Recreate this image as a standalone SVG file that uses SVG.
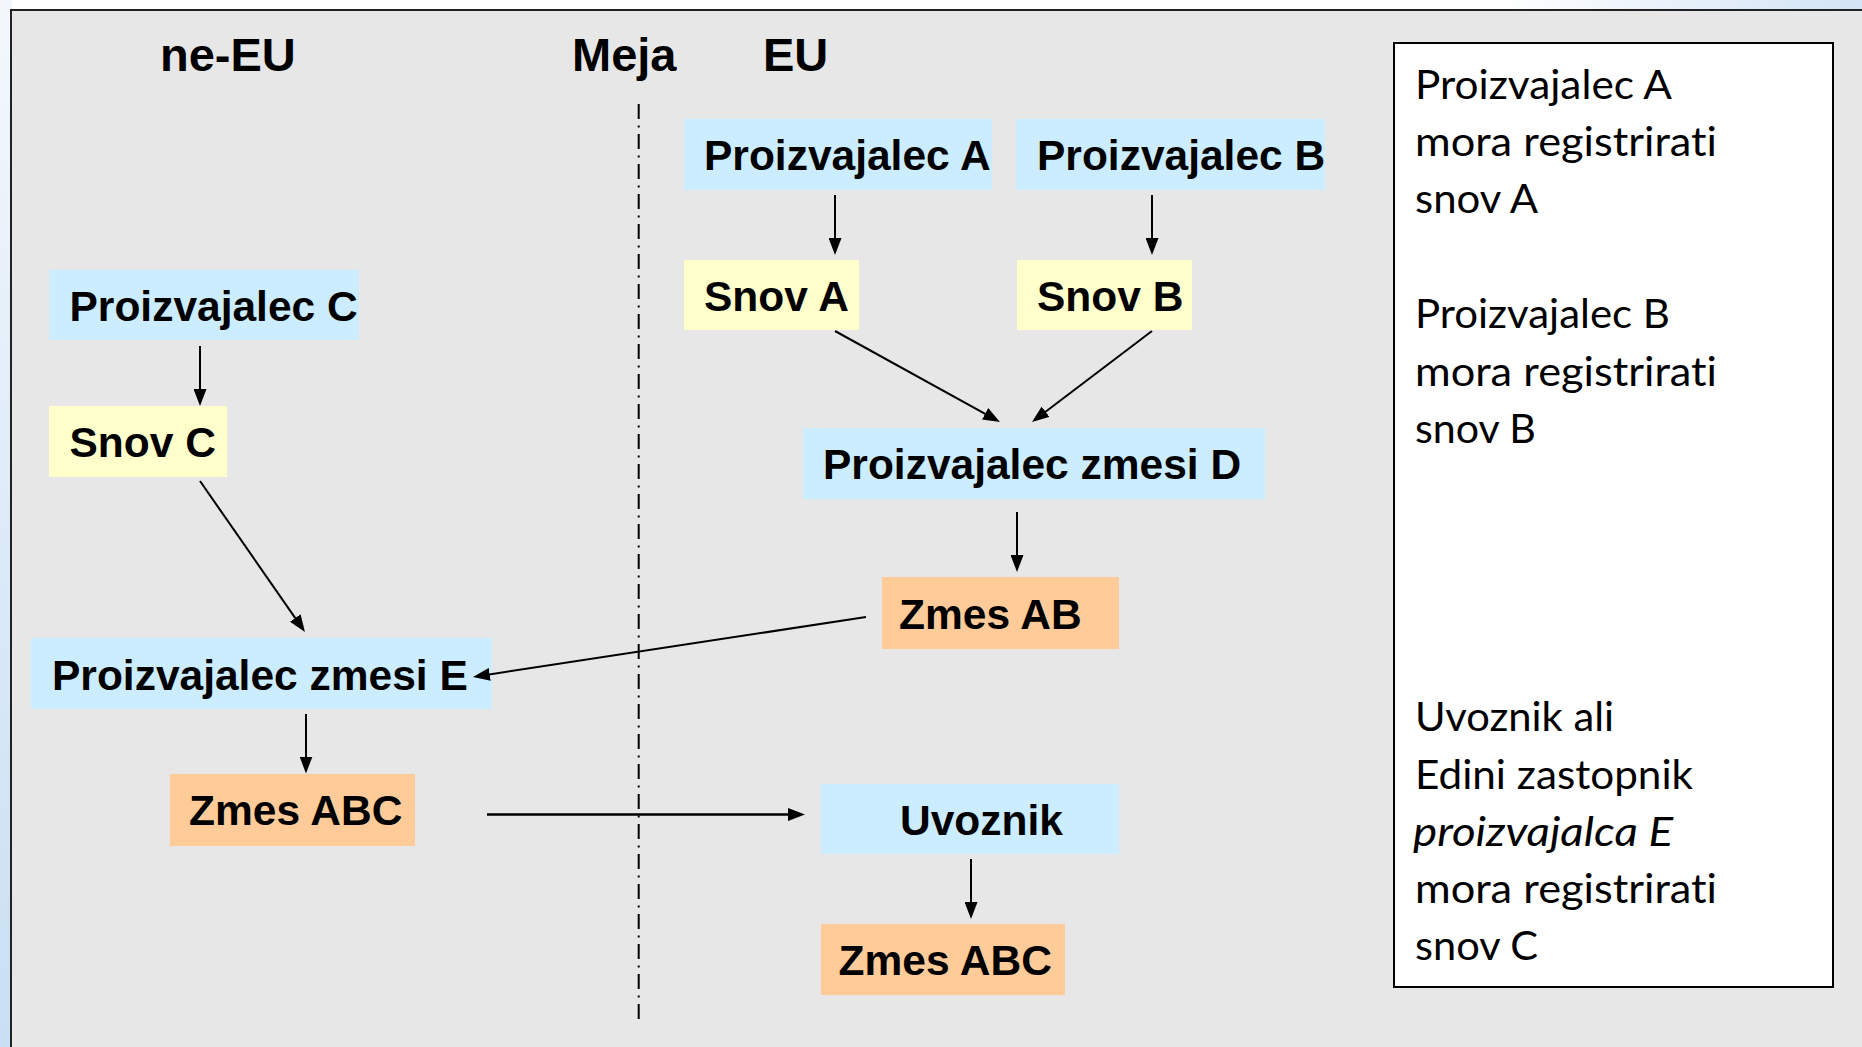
<svg xmlns="http://www.w3.org/2000/svg" width="1862" height="1047" viewBox="0 0 1862 1047">
<defs>
<style>
.node text{font-family:"Liberation Sans",Arial,sans-serif;font-weight:bold;font-size:42.5px;fill:#000}
.hdr{font-family:"Liberation Sans",Arial,sans-serif;font-weight:bold;font-size:47px;fill:#000}
.blue{fill:#CCECFF}
.yel{fill:#FFFFCC}
.org{fill:#FFCC99}
.conn line{stroke:#000;stroke-width:2;fill:none}
.note{font-family:Lato,"Open Sans",sans-serif;font-size:41px;fill:#000;font-variant-ligatures:none;font-feature-settings:"liga" 0}
</style>
<marker id="ah" markerUnits="userSpaceOnUse" markerWidth="17" markerHeight="13" refX="12" refY="6.5" orient="auto">
<path d="M0,0 L17,6.5 L0,13 z" fill="#000"/>
</marker>
<linearGradient id="lg" x1="0" y1="0" x2="0" y2="1">
<stop offset="0" stop-color="#F4F8FC"/>
<stop offset="0.5" stop-color="#DDEBF8"/>
<stop offset="1" stop-color="#C9DFF3"/>
</linearGradient>
<linearGradient id="tg" x1="0" y1="0" x2="1" y2="0">
<stop offset="0" stop-color="#FFFFFF"/>
<stop offset="0.6" stop-color="#E3EEF9"/>
<stop offset="1" stop-color="#D2E4F5"/>
</linearGradient>
</defs>
<rect x="0" y="0" width="1862" height="1047" fill="#FFFFFF"/>
<rect x="0" y="0" width="12" height="1047" fill="url(#lg)"/>
<rect x="1500" y="0" width="362" height="11" fill="url(#tg)"/>
<rect x="11" y="10" width="1900" height="1100" fill="#E7E7E7" stroke="#222" stroke-width="2"/>

<g id="headers">
<text class="hdr" x="160" y="70.5">ne-EU</text>
<text class="hdr" x="572" y="70.5">Meja</text>
<text class="hdr" x="763" y="70.5">EU</text>
</g>

<line id="border-line" x1="638.7" y1="104" x2="638.7" y2="1019" stroke="#000" stroke-width="2" stroke-dasharray="15 6.5 2 6.5"/>

<g id="n-pa" class="node"><rect class="blue" x="684" y="119" width="308" height="71"/><text x="704" y="170">Proizvajalec A</text></g>
<g id="n-pb" class="node"><rect class="blue" x="1016" y="119" width="309" height="71"/><text x="1037" y="170">Proizvajalec B</text></g>
<g id="n-sa" class="node"><rect class="yel" x="684" y="260" width="175" height="70"/><text x="704" y="311">Snov A</text></g>
<g id="n-sb" class="node"><rect class="yel" x="1017" y="260" width="175" height="70"/><text x="1037" y="311">Snov B</text></g>
<g id="n-pc" class="node"><rect class="blue" x="49" y="270" width="310" height="70"/><text x="69.5" y="321">Proizvajalec C</text></g>
<g id="n-sc" class="node"><rect class="yel" x="49" y="406" width="178" height="71"/><text x="69.5" y="457">Snov C</text></g>
<g id="n-pd" class="node"><rect class="blue" x="803" y="428" width="462" height="71"/><text x="823" y="479">Proizvajalec zmesi D</text></g>
<g id="n-zab" class="node"><rect class="org" x="882" y="577" width="237" height="72"/><text x="899" y="628.5">Zmes AB</text></g>
<g id="n-pe" class="node"><rect class="blue" x="31" y="638" width="461" height="71"/><text x="52" y="689.5">Proizvajalec zmesi E</text></g>
<g id="n-zabc1" class="node"><rect class="org" x="170" y="774" width="245" height="72"/><text x="189" y="825">Zmes ABC</text></g>
<g id="n-uv" class="node"><rect class="blue" x="821" y="784" width="298" height="70"/><text x="900" y="835">Uvoznik</text></g>
<g id="n-zabc2" class="node"><rect class="org" x="821" y="924" width="244" height="71"/><text x="838.5" y="975">Zmes ABC</text></g>

<g id="connectors" class="conn">
<line x1="835" y1="195" x2="835" y2="250" marker-end="url(#ah)"/>
<line x1="1152" y1="195" x2="1152" y2="250" marker-end="url(#ah)"/>
<line x1="835" y1="331" x2="995.6" y2="419.6" marker-end="url(#ah)"/>
<line x1="1152" y1="331" x2="1036" y2="419" marker-end="url(#ah)"/>
<line x1="1017" y1="512" x2="1017" y2="567" marker-end="url(#ah)"/>
<line x1="200" y1="346" x2="200" y2="401" marker-end="url(#ah)"/>
<line x1="200" y1="481" x2="302.1" y2="627.9" marker-end="url(#ah)"/>
<line x1="866" y1="617" x2="477.9" y2="676.2" marker-end="url(#ah)"/>
<line x1="306" y1="714" x2="306" y2="768.5" marker-end="url(#ah)"/>
<line x1="487" y1="814.5" x2="800" y2="814.5" marker-end="url(#ah)" style="stroke-width:2.5"/>
<line x1="971" y1="859" x2="971" y2="914" marker-end="url(#ah)"/>
</g>

<g id="note">
<rect x="1394" y="43" width="439" height="944" fill="#FFFFFF" stroke="#000" stroke-width="2"/>
<text class="note" x="1415" y="99" textLength="257" lengthAdjust="spacingAndGlyphs">Proizvajalec A</text>
<text class="note" x="1415" y="156" textLength="302" lengthAdjust="spacingAndGlyphs">mora registrirati</text>
<text class="note" x="1415" y="213" textLength="123" lengthAdjust="spacingAndGlyphs">snov A</text>
<text class="note" x="1415" y="328" textLength="255" lengthAdjust="spacingAndGlyphs">Proizvajalec B</text>
<text class="note" x="1415" y="386" textLength="302" lengthAdjust="spacingAndGlyphs">mora registrirati</text>
<text class="note" x="1415" y="443" textLength="121" lengthAdjust="spacingAndGlyphs">snov B</text>
<text class="note" x="1415" y="731" textLength="199" lengthAdjust="spacingAndGlyphs">Uvoznik ali</text>
<text class="note" x="1415" y="789" textLength="278" lengthAdjust="spacingAndGlyphs">Edini zastopnik</text>
<text class="note" x="1413" y="846" textLength="260" lengthAdjust="spacingAndGlyphs" font-style="italic">proizvajalca E</text>
<text class="note" x="1415" y="903" textLength="302" lengthAdjust="spacingAndGlyphs">mora registrirati</text>
<text class="note" x="1415" y="960" textLength="123" lengthAdjust="spacingAndGlyphs">snov C</text>
</g>
</svg>
